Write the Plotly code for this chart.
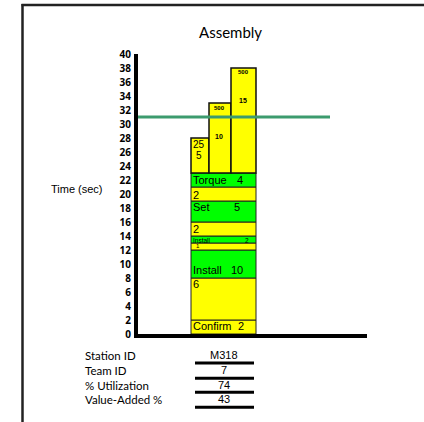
import plotly.graph_objects as go

# ---------------- data ----------------
chart_title = "Assembly"
y_title = "Time (sec)"
y_ticks = list(range(0, 41, 2))

elements = ["Confirm", "Install", "Install", "Set", "Torque"]
element_times = [2, 10, 2, 5, 4]
va_times = [0, 4, 1, 3, 2]          # green part
waste_times = [2, 6, 1, 2, 2]       # yellow part
waste_labels = ["", "6", "1", "2", "2"]

extra_top_labels = ["25", "500", "500"]
extra_times = [5, 10, 15]

takt_time = 31

table_labels = ["Station ID", "Team ID", "% Utilization", "Value-Added %"]
table_values = ["M318", "7", "74", "43"]

# ---------------- layout constants (screen pixels) ----------------
W, H = 424, 422
PLOT_L, PLOT_R, PLOT_T, PLOT_B = 138, 367, 54, 334
L, R = PLOT_L, W - PLOT_R
T, B = PLOT_T, H - PLOT_B
PW, PH = PLOT_R - PLOT_L, PLOT_B - PLOT_T
YMAX = 40

YELLOW = "#FFFF00"
GREEN = "#00FF00"
TAKT_COLOR = "#3C9B6E"

STACK_X, STACK_W = 85.5, 65
EXTRA_X = [62, 82, 105.5]
EXTRA_W = [18, 22, 25]
TAKT_X_END = 192

name_dy = [6, 20, 4, 6, 7]
name_size = [11, 11, 6.5, 11, 11]
num_x = [102.7, 98.7, 108.7, 98.7, 102]
waste_dy = [0, 5.5, 3, 6.7, 8]
waste_size = [11, 11, 6, 11, 11]
waste_x = [58, 58, 60.3, 58, 58]

extra_dy1 = [6.3, 5, 4.4]
extra_dy2 = [17.3, 33, 32.7]
extra_lbl_x = [61.3, 81.3, 105.3]
extra_size1 = [10, 6, 6]
extra_size2 = [10, 7, 7]
extra_bold = [False, True, True]

ARIAL = "Liberation Sans, Arial, sans-serif"
CAL = "Lato, Carlito, Calibri, sans-serif"
TICKF = "Open Sans, sans-serif"


def px_x(px):
    return (px - PLOT_L) / PW


def px_y(py):
    return (PLOT_B - py) / PH


# ---------------- build stack ----------------
seg_vals, seg_base, seg_cols = [], [], []
name_y = []
waste_top = []
cum = 0
for i in range(len(elements)):
    seg_vals.append(waste_times[i]); seg_base.append(cum); seg_cols.append(YELLOW)
    cum += waste_times[i]
    waste_top.append(cum)
    if va_times[i] > 0:
        seg_vals.append(va_times[i]); seg_base.append(cum); seg_cols.append(GREEN)
        cum += va_times[i]
    name_y.append(cum)
stack_top = cum

fig = go.Figure()
fig.add_trace(go.Bar(
    x=[STACK_X] * len(seg_vals), y=seg_vals, base=seg_base, width=STACK_W,
    marker=dict(color=seg_cols, line=dict(color="#222222", width=1)),
    hoverinfo="skip", showlegend=False))
fig.add_trace(go.Bar(
    x=EXTRA_X, y=extra_times, base=[stack_top] * len(extra_times), width=EXTRA_W,
    marker=dict(color=YELLOW, line=dict(color="#111111", width=1.5)),
    hoverinfo="skip", showlegend=False))
fig.add_trace(go.Scatter(
    x=[0, TAKT_X_END], y=[takt_time, takt_time], mode="lines",
    line=dict(color=TAKT_COLOR, width=3), hoverinfo="skip", showlegend=False))

ann = []
for i, name in enumerate(elements):
    f = dict(family=ARIAL, size=name_size[i], color="black")
    ann.append(dict(x=STACK_X - STACK_W / 2, y=name_y[i], xref="x", yref="y",
                    text=name, showarrow=False, xanchor="left", yanchor="middle",
                    yshift=-name_dy[i], font=f))
    ann.append(dict(x=num_x[i], y=name_y[i], xref="x", yref="y",
                    text=str(element_times[i]), showarrow=False, xanchor="center",
                    yanchor="middle", yshift=-name_dy[i], font=f))
    if waste_labels[i]:
        ann.append(dict(x=waste_x[i], y=waste_top[i], xref="x", yref="y",
                        text=waste_labels[i], showarrow=False, xanchor="center",
                        yanchor="middle", yshift=-waste_dy[i],
                        font=dict(family=ARIAL, size=waste_size[i], color="black")))
for j in range(len(extra_times)):
    top = stack_top + extra_times[j]
    t1 = extra_top_labels[j]
    t2 = str(extra_times[j])
    if extra_bold[j]:
        t1, t2 = "<b>%s</b>" % t1, "<b>%s</b>" % t2
    ann.append(dict(x=extra_lbl_x[j], y=top, xref="x", yref="y", text=t1,
                    showarrow=False, yanchor="middle", yshift=-extra_dy1[j],
                    font=dict(family=ARIAL, size=extra_size1[j], color="black")))
    ann.append(dict(x=extra_lbl_x[j], y=top, xref="x", yref="y", text=t2,
                    showarrow=False, yanchor="middle", yshift=-extra_dy2[j],
                    font=dict(family=ARIAL, size=extra_size2[j], color="black")))

ann.append(dict(x=px_x(230.5), y=px_y(31.7), xref="paper", yref="paper",
                text=chart_title, showarrow=False, xanchor="center", yanchor="middle",
                font=dict(family=CAL, size=15, color="black")))
ann.append(dict(x=px_x(77.3), y=px_y(189), xref="paper", yref="paper",
                text=y_title, showarrow=False, xanchor="center", yanchor="middle",
                font=dict(family=ARIAL, size=11, color="black")))

row_y = [355, 370.3, 385, 399.3]
line_y = [363, 378.3, 392.3, 407.3]
shapes = []
for k in range(len(table_labels)):
    ann.append(dict(x=px_x(82.7), y=px_y(row_y[k]), xref="paper", yref="paper",
                    text=table_labels[k], showarrow=False, xanchor="left",
                    yanchor="middle", font=dict(family=CAL, size=11.5, color="black")))
    ann.append(dict(x=px_x(224.3), y=px_y(row_y[k]), xref="paper", yref="paper",
                    text=table_values[k], showarrow=False, xanchor="center",
                    yanchor="middle", font=dict(family=ARIAL, size=11, color="black")))
    shapes.append(dict(type="line", xref="paper", yref="paper",
                       x0=px_x(195), x1=px_x(254), y0=px_y(line_y[k]), y1=px_y(line_y[k]),
                       line=dict(color="black", width=3)))

shapes.append(dict(type="line", xref="paper", yref="paper",
                   x0=px_x(22.5), x1=px_x(22.5), y0=px_y(4), y1=px_y(430),
                   line=dict(color="#222222", width=2.5)))
shapes.append(dict(type="line", xref="paper", yref="paper",
                   x0=px_x(21.5), x1=px_x(430), y0=px_y(5), y1=px_y(5),
                   line=dict(color="#222222", width=2.5)))

fig.update_layout(
    width=W, height=H, margin=dict(l=L, r=R, t=T, b=B, pad=0),
    paper_bgcolor="white", plot_bgcolor="white",
    barmode="overlay", showlegend=False,
    annotations=ann, shapes=shapes,
    xaxis=dict(range=[0, PW], showgrid=False, zeroline=False, showticklabels=False,
               ticks="", showline=True, linecolor="black", linewidth=4, fixedrange=True),
    yaxis=dict(range=[0, YMAX], tickvals=y_ticks,
               ticktext=["<b>%d</b>" % v for v in y_ticks],
               showgrid=False, zeroline=False,
               ticks="", showline=True, linecolor="black", linewidth=4,
               tickfont=dict(family=TICKF, size=10, color="black"),
               ticklabelstandoff=1, fixedrange=True),
)

fig.write_html("out.html", config={"displayModeBar": False, "staticPlot": True},
               post_script="document.body.style.margin='0';document.body.style.overflow='hidden';")
